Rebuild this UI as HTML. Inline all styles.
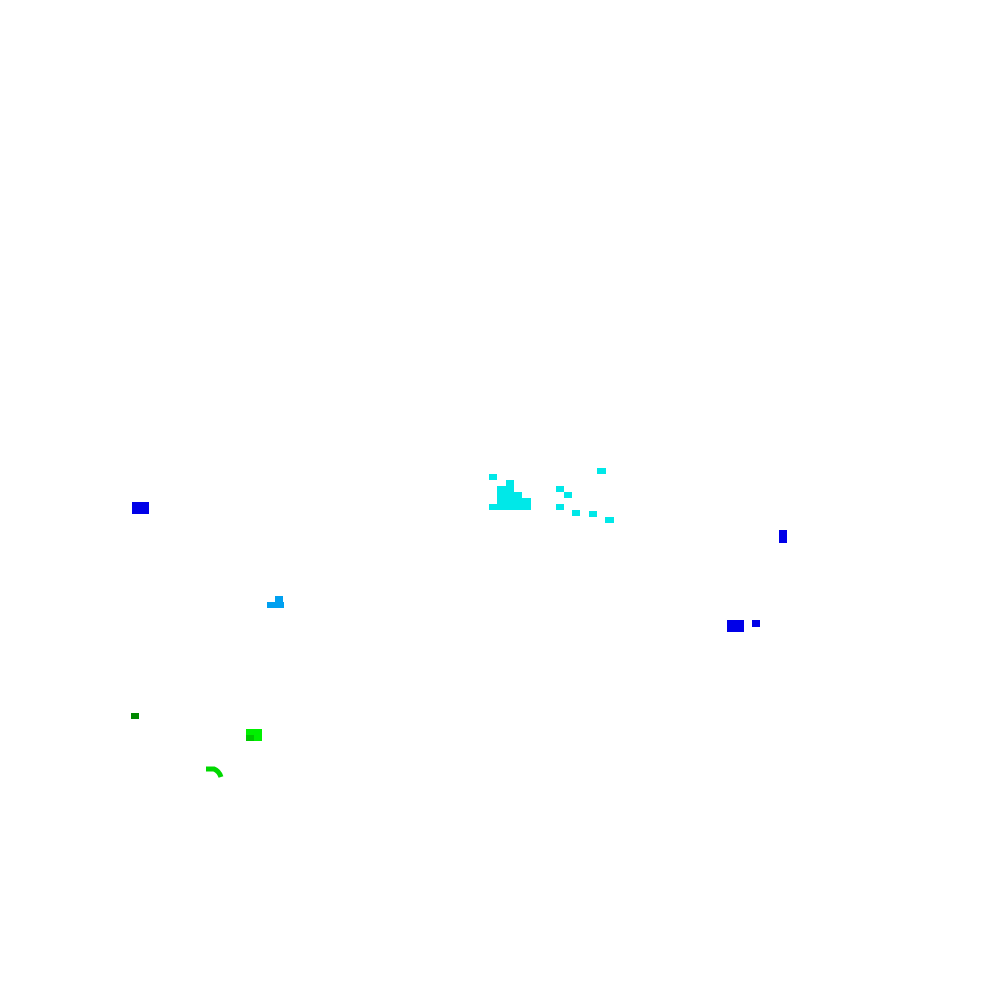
<!DOCTYPE html>
<html><head><meta charset="utf-8"><style>
html,body{margin:0;padding:0;background:#fff;width:1000px;height:1000px;overflow:hidden;position:relative}
div{position:absolute}
.c{background:#00e8e8}.b{background:#0000e8}.l{background:#00a0f0}
</style></head><body>
<div class="c" style="left:489px;top:474px;width:8px;height:6px"></div>
<div class="c" style="left:489px;top:504px;width:42px;height:6px"></div>
<div class="c" style="left:497px;top:486px;width:17px;height:18px"></div>
<div class="c" style="left:506px;top:480px;width:8px;height:6px"></div>
<div class="c" style="left:514px;top:492px;width:8px;height:12px"></div>
<div class="c" style="left:522px;top:498px;width:9px;height:6px"></div>
<div class="c" style="left:597px;top:468px;width:9px;height:6px"></div>
<div class="c" style="left:556px;top:486px;width:8px;height:6px"></div>
<div class="c" style="left:564px;top:492px;width:8px;height:6px"></div>
<div class="c" style="left:556px;top:504px;width:8px;height:6px"></div>
<div class="c" style="left:572px;top:510px;width:8px;height:6px"></div>
<div class="c" style="left:589px;top:511px;width:8px;height:6px"></div>
<div class="c" style="left:605px;top:517px;width:9px;height:6px"></div>
<div class="b" style="left:132px;top:502px;width:17px;height:12px"></div>
<div class="b" style="left:779px;top:530px;width:8px;height:13px"></div>
<div class="b" style="left:727px;top:620px;width:17px;height:12px"></div>
<div class="b" style="left:752px;top:620px;width:8px;height:7px"></div>
<div class="l" style="left:275px;top:596px;width:8px;height:6px"></div>
<div class="l" style="left:267px;top:602px;width:17px;height:6px"></div>
<div style="left:131px;top:713px;width:8px;height:6px;background:#008800"></div>
<div style="left:246px;top:729px;width:16px;height:12px;background:#00f000"></div>
<div style="left:246px;top:735px;width:8px;height:6px;background:#00c800"></div>
<svg style="position:absolute;left:0;top:0" width="1000" height="1000"><path d="M206 769 L214 769 Q219 771 221 777" fill="none" stroke="#00d800" stroke-width="5"/></svg>
</body></html>
